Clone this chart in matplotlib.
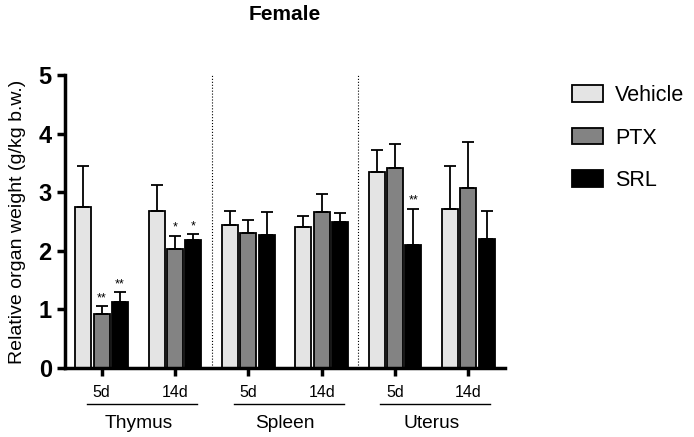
import numpy as np
import matplotlib
matplotlib.use("Agg")
import matplotlib.pyplot as plt
import matplotlib.transforms as mtransforms

plt.rcParams['font.family'] = ['Liberation Sans', 'DejaVu Sans']

groups = ["5d", "14d", "5d", "14d", "5d", "14d"]
organs = ["Thymus", "Spleen", "Uterus"]
series = ["Vehicle", "PTX", "SRL"]
colors = ["#e4e4e4", "#838383", "#000000"]

vehicle = [2.74, 2.68, 2.44, 2.41, 3.34, 2.71]
vehicle_err = [0.71, 0.44, 0.24, 0.19, 0.38, 0.73]
ptx = [0.92, 2.03, 2.30, 2.67, 3.41, 3.07]
ptx_err = [0.13, 0.23, 0.23, 0.30, 0.42, 0.79]
srl = [1.13, 2.18, 2.27, 2.49, 2.09, 2.20]
srl_err = [0.17, 0.10, 0.39, 0.16, 0.63, 0.48]

# significance marks: (group index, series index, text)
sig = [(0, 1, "**"), (0, 2, "**"), (1, 1, "*"), (1, 2, "*"), (4, 2, "**")]

values = [vehicle, ptx, srl]
errors = [vehicle_err, ptx_err, srl_err]

fig = plt.figure(figsize=(6.94, 4.37), dpi=100)
ax = fig.add_axes([0.0937, 0.158, 0.634, 0.6704])

x = np.arange(len(groups))
step = 0.25
width = 0.22
for i, (name, vals, errs, c) in enumerate(zip(series, values, errors, colors)):
    ax.bar(x + (i - 1) * step, vals, width, color=c, edgecolor="black",
           linewidth=1.3, label=name,
           yerr=[np.zeros(len(errs)), errs],
           error_kw=dict(ecolor="black", elinewidth=1.3, capsize=4, capthick=1.3))

for g, s, txt in sig:
    top = values[s][g] + errors[s][g]
    ax.text(g + (s - 1) * step, top + 0.03, txt, ha="center", va="bottom",
            fontsize=9)

for xv in [1.5, 3.5]:
    ax.axvline(xv, color="black", linestyle=":", linewidth=0.8)

ax.set_xlim(-0.5, 5.5)
ax.set_ylim(0, 5)
ax.set_yticks(range(6))
ax.set_yticklabels([str(v) for v in range(6)], fontsize=17, fontweight="bold")
ax.set_xticks(x)
ax.set_xticklabels(groups, fontsize=11.5)
ax.tick_params(axis="both", width=2.5, length=6)
ax.tick_params(axis="x", pad=6)
for side in ["top", "right"]:
    ax.spines[side].set_visible(False)
for side in ["left", "bottom"]:
    ax.spines[side].set_linewidth(2.5)

ax.set_ylabel("Relative organ weight (g/kg b.w.)", fontsize=14, labelpad=9)

trans = mtransforms.blended_transform_factory(ax.transData, ax.transAxes)
for k, organ in enumerate(organs):
    x0, x1 = 2 * k - 0.2, 2 * k + 1.3
    ax.plot([x0, x1], [-0.124, -0.124], color="black", linewidth=1,
            transform=trans, clip_on=False)
    ax.text(2 * k + 0.5, -0.19, organ, ha="center", va="center",
            fontsize=13.8, transform=trans)

fig.text(285 / 694, 1 - 15 / 437, "Female", ha="center", va="center",
         fontsize=15, fontweight="bold")

handles, labels = ax.get_legend_handles_labels()
handles = [h.patches[0] if hasattr(h, "patches") else h for h in handles]
fig.legend(handles, labels, loc="upper left",
           bbox_to_anchor=(572 / 694, 1 - 85 / 437),
           frameon=False, fontsize=15.5, handlelength=1.44, handleheight=0.8,
           labelspacing=1.0, handletextpad=0.55, borderpad=0, borderaxespad=0)

fig.savefig("out.png", dpi=100)
